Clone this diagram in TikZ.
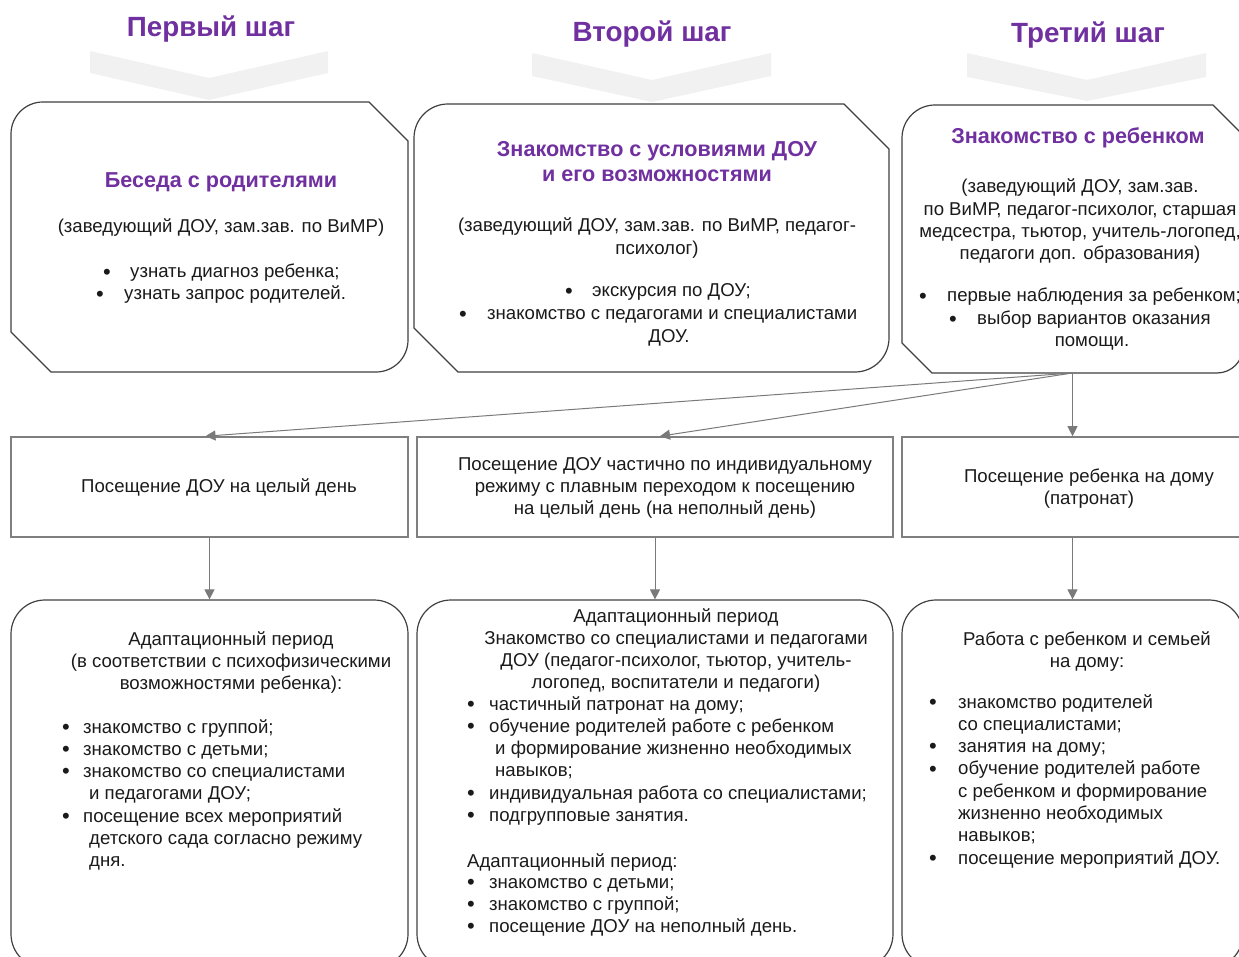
\documentclass[tikz,border=0pt]{standalone}
\usepackage{fontspec}
\setmainfont{Liberation Sans}
\usetikzlibrary{arrows.meta}
\definecolor{purp}{HTML}{7030A0}
\definecolor{chev}{HTML}{F1F1F1}
\definecolor{edge}{HTML}{404040}
\definecolor{redge}{HTML}{7F7F7F}
\definecolor{arrc}{HTML}{7A7A7A}
\definecolor{txt}{HTML}{1A1A1A}
\newcommand{\tl}[1]{\begin{tabular}[t]{@{}l@{}}#1\end{tabular}}
\newcommand{\tc}[1]{\begin{tabular}[t]{@{}c@{}}#1\end{tabular}}
\newcommand{\bul}[1][20pt]{\makebox[#1][l]{\smash{\raisebox{-1.3pt}{\fontsize{22}{22}\selectfont •}}}}
\begin{document}
\begin{tikzpicture}[x=1pt,y=-1pt,
  area/.style={draw=none,inner sep=0,outer sep=0,rectangle},
  snipbox/.style={draw=edge,line width=1.2pt,fill=white},
  rbox/.style={draw=edge,line width=1.2pt,rounded corners=34pt,rectangle},
  rect/.style={draw=redge,line width=1.6pt,rectangle},
  hdr/.style={font=\fontsize{27.8}{32}\selectfont\bfseries,text=purp,inner sep=0,anchor=base},
  ttl/.style={font=\fontsize{21.6}{25}\selectfont\bfseries,text=purp,inner sep=0,anchor=base},
  body/.style={font=\fontsize{18.6}{22.3}\selectfont,text=txt,inner sep=0,anchor=base},
  bodyl/.style={body,anchor=base west},
  arr/.style={draw=arrc,line width=1pt,-{Triangle[length=10pt,width=10pt]}},
  chevron/.style={fill=chev,draw=none}
]
\useasboundingbox (0,0) rectangle (1239,957);
\clip (0,0) rectangle (1239,957);

% chevrons
\fill[chevron] (90,51) -- (209,78) -- (328,51) -- (328,73) -- (209,100) -- (90,73) -- cycle;
\fill[chevron] (532,53) -- (652,80) -- (771,53) -- (771,76) -- (652,102) -- (532,76) -- cycle;
\fill[chevron] (967,53) -- (1087,80) -- (1206,53) -- (1206,77) -- (1087,101) -- (967,77) -- cycle;

% headers
\node[hdr] (h1) at (211,37) {Первый шаг};
\node[hdr] (h2) at (652,42) {Второй шаг};
\node[hdr] (h3) at (1088,43) {Третий шаг};

% top boxes (areas + outlines)
\node[area,minimum width=397,minimum height=270] (s1) at (209.5,237) {};
\node[area,minimum width=475,minimum height=268] (s2) at (651.5,238) {};
\node[area,minimum width=341,minimum height=268] (s3) at (1072.5,239) {};
\draw[snipbox] (11,134) .. controls (11,116.3) and (25.3,102) .. (43,102) -- (369,102) -- (408,141) -- (408,340) .. controls (408,357.7) and (393.7,372) .. (376,372) -- (51,372) -- (11,332) -- cycle;
\draw[snipbox] (414,138) .. controls (414,119.2) and (429.2,104) .. (448,104) -- (844,104) -- (889,149) -- (889,338) .. controls (889,356.8) and (873.8,372) .. (855,372) -- (458,372) -- (414,328) -- cycle;
\draw[snipbox] (902,138) .. controls (902,119.8) and (916.8,105) .. (935,105) -- (1213,105) -- (1243,135) -- (1243,347) .. controls (1243,361.4) and (1231.4,373) .. (1217,373) -- (932,373) -- (902,343) -- cycle;

% box 1 text
\node[ttl] (t1) at (221,188) {Беседа с родителями};
\node[body] (p1) at (221,233) {(заведующий ДОУ, зам.зав. по ВиМР)};
\node[bodyl] (l1a) at (103,278) {\bul[27pt]узнать диагноз ребенка;};
\node[bodyl] (l1b) at (96,300) {\bul[28pt]узнать запрос родителей.};

% box 2 text
\node[ttl] (t2) at (657,157) {\tc{Знакомство с условиями ДОУ\\и его возможностями}};
\node[body] (p2) at (657,232) {\tc{(заведующий ДОУ, зам.зав. по ВиМР, педагог-\\психолог)}};
\node[bodyl] (l2a) at (565,297) {\bul[27pt]экскурсия по ДОУ;};
\node[bodyl] (l2b) at (459,320) {\bul[28pt]знакомство с педагогами и специалистами};
\node[body] (l2c) at (669,343) {ДОУ.};

% box 3 text
\node[ttl] (t3) at (1078,144) {Знакомство с ребенком};
\node[body] (p3) at (1080,193) {\tc{(заведующий ДОУ, зам.зав.\\по ВиМР, педагог-психолог, старшая\\медсестра, тьютор, учитель-логопед,\\педагоги доп. образования)}};
\node[bodyl] (l3a) at (919,302) {\bul[28pt]первые наблюдения за ребенком;};
\node[bodyl] (l3b) at (949,325) {\bul[28pt]выбор вариантов оказания};
\node[body] (l3c) at (1092,347) {помощи.};

% middle row
\node[rect,minimum width=397,minimum height=100] (mA) at (209.5,487) {};
\node[rect,minimum width=476,minimum height=100] (mB) at (655,487) {};
\node[rect,minimum width=341,minimum height=100] (mC) at (1072.5,487) {};
\node[body] (ta) at (219,492) {Посещение ДОУ на целый день};
\node[body] (tb) at (665,470) {\tc{Посещение ДОУ частично по индивидуальному\\режиму с плавным переходом к посещению\\на целый день (на неполный день)}};
\node[body] (tcc) at (1089,482) {\tc{Посещение ребенка на дому\\(патронат)}};

% bottom row
\node[rbox,minimum width=397,minimum height=368] (bD) at (209.5,784) {};
\node[rbox,minimum width=476,minimum height=368] (bE) at (655,784) {};
\node[rbox,minimum width=341,minimum height=368] (bF) at (1072.5,784) {};

\node[body] (dh) at (231,645) {\tc{Адаптационный период\\(в соответствии с психофизическими\\возможностями ребенка):}};
\node[bodyl] (dl) at (62,733) {\tl{\bul[21pt]знакомство с группой;\\ \bul[21pt]знакомство с детьми;\\ \bul[21pt]знакомство со специалистами\\ \hspace*{27pt}и педагогами ДОУ;\\ \bul[21pt]посещение всех мероприятий\\ \hspace*{27pt}детского сада согласно режиму\\ \hspace*{27pt}дня.}};

\node[body] (eh) at (676,622) {\tc{Адаптационный период\\Знакомство со специалистами и педагогами\\ДОУ (педагог-психолог, тьютор, учитель-\\логопед, воспитатели и педагоги)}};
\node[bodyl] (el) at (467,710) {\tl{\bul[22pt]частичный патронат на дому;\\ \bul[22pt]обучение родителей работе с ребенком\\ \hspace*{28pt}и формирование жизненно необходимых\\ \hspace*{28pt}навыков;\\ \bul[22pt]индивидуальная работа со специалистами;\\ \bul[22pt]подгрупповые занятия.}};
\node[bodyl] (eh2) at (467,867) {Адаптационный период:};
\node[bodyl] (el2) at (467,888) {\tl{\bul[22pt]знакомство с детьми;\\ \bul[22pt]знакомство с группой;\\ \bul[22pt]посещение ДОУ на неполный день.}};

\node[body] (fh) at (1087,645) {\tc{Работа с ребенком и семьей\\на дому:}};
\node[bodyl] (fl) at (929,708) {\tl{\bul[29pt]знакомство родителей\\ \hspace*{29pt}со специалистами;\\ \bul[29pt]занятия на дому;\\ \bul[29pt]обучение родителей работе\\ \hspace*{29pt}с ребенком и формирование\\ \hspace*{29pt}жизненно необходимых\\ \hspace*{29pt}навыков;\\ \bul[29pt]посещение мероприятий ДОУ.}};

% connectors
\draw[arr] (s3.south) -- ([xshift=-4pt]mA.north);
\draw[arr] (s3.south) -- ([xshift=5pt]mB.north);
\draw[arr] (s3.south) -- (mC.north);
\draw[arr] (mA.south) -- (bD.north);
\draw[arr] (mB.south) -- (bE.north);
\draw[arr] (mC.south) -- (bF.north);
\end{tikzpicture}
\end{document}
